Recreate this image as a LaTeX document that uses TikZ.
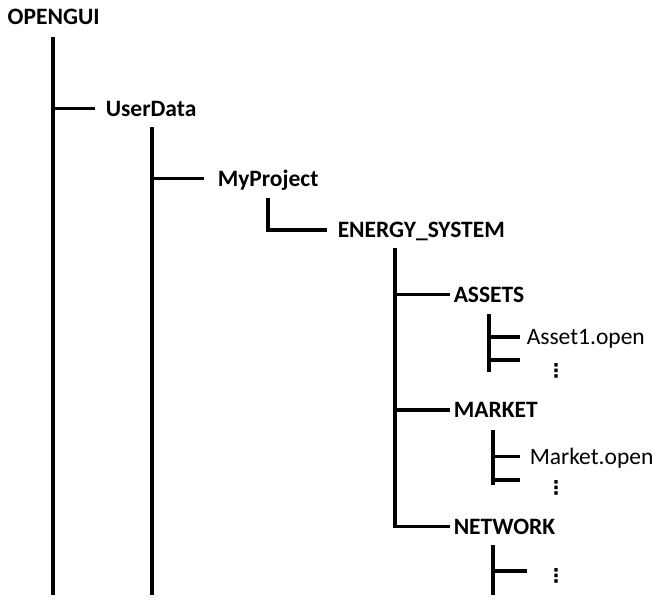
\documentclass[tikz,border=0pt]{standalone}
\usepackage{fontspec}
\setmainfont{Carlito}
\newfontfamily\symfont{DejaVu Sans}
\begin{document}
\begin{tikzpicture}[x=1pt,y=-1pt,line width=3.5pt,
  dir/.style={inner sep=0pt,anchor=west,text height=15pt,text depth=0pt,font=\fontsize{23.5}{28}\selectfont\bfseries},
  file/.style={dir,font=\fontsize{23.5}{28}\selectfont},
  more/.style={inner sep=0pt,font=\fontsize{19}{22}\selectfont\symfont\bfseries}]
 \useasboundingbox (0,0) rectangle (669,610);
 \node[dir] (opengui) at (6,17.5) {OPENGUI};
 \node[dir] (userdata) at (104,108.5) {UserData};
 \node[dir] (myproject) at (216,178.5) {MyProject};
 \node[dir] (energy) at (336,230) {ENERGY\_SYSTEM};
 \node[dir] (assets) at (452,294.5) {ASSETS};
 \node[file] (asset1) at (525,337) {Asset1.open};
 \node[more] (dotsA) at (556,371) {⋮};
 \node[dir] (market) at (452,410) {MARKET};
 \node[file] (marketfile) at (528,456.5) {Market.open};
 \node[more] (dotsB) at (556,487.5) {⋮};
 \node[dir] (network) at (452,526.5) {NETWORK};
 \node[more] (dotsC) at (556,575.5) {⋮};
 \coordinate (topA) at (53,37);
 \coordinate (botA) at (53,595);
 \coordinate (topB) at (152,127);
 \coordinate (botB) at (152,595);
 \coordinate (topC) at (268,198);
 \coordinate (topD) at (395,248);
 \coordinate (topE) at (489,314);
 \coordinate (botE) at (489,372);
 \coordinate (endE) at (520,360);
 \coordinate (topF) at (493,430);
 \coordinate (botF) at (493,485);
 \coordinate (endF) at (520,480);
 \coordinate (topG) at (493,545);
 \coordinate (botG) at (493,595);
 \coordinate (endG) at (527,571);
 \draw (topA) -- (botA);
 \draw (topA |- userdata.west) -- ([xshift=-9pt]userdata.west);
 \draw (topB) -- (botB);
 \draw (topB |- myproject.west) -- ([xshift=-12pt]myproject.west);
 \draw (topC) |- ([xshift=-9pt]energy.west);
 \draw (topD) |- ([xshift=-2pt]network.west);
 \draw (topD |- assets.west) -- ([xshift=-2pt]assets.west);
 \draw (topD |- market.west) -- ([xshift=-2pt]market.west);
 \draw (topE) -- (botE);
 \draw (topE |- asset1.west) -- ([xshift=-5pt]asset1.west);
 \draw (topE |- endE) -- (endE);
 \draw (topF) -- (botF);
 \draw (topF |- marketfile.west) -- ([xshift=-8pt]marketfile.west);
 \draw (topF |- endF) -- (endF);
 \draw (topG) -- (botG);
 \draw (topG |- endG) -- (endG);
\end{tikzpicture}
\end{document}
